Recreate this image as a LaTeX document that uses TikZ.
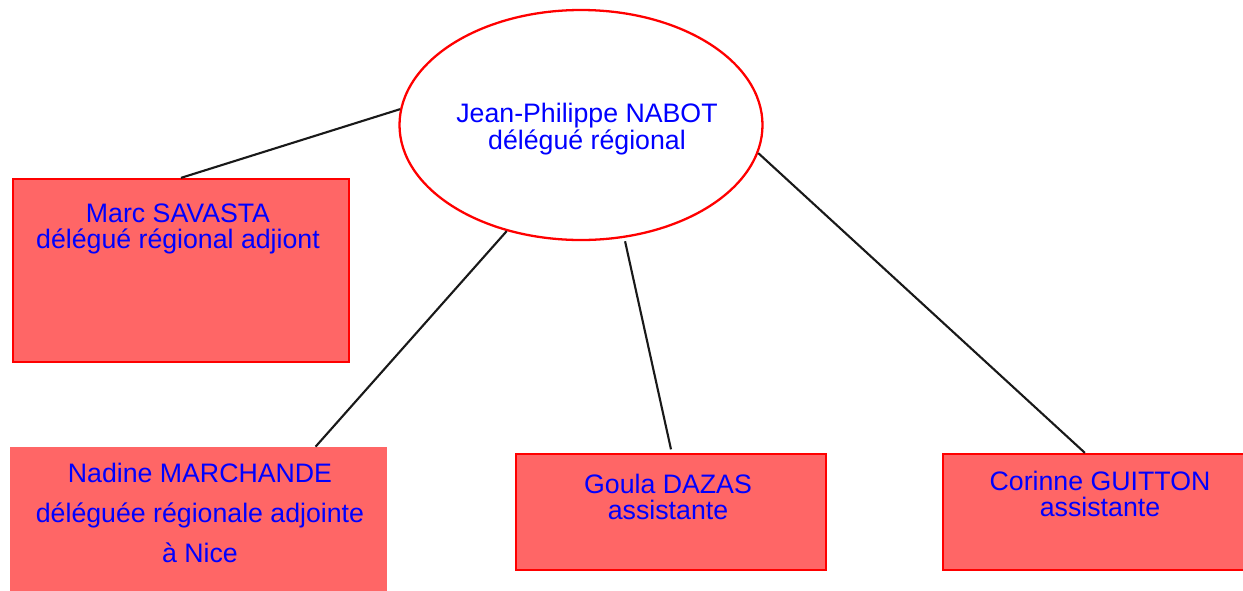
\documentclass[tikz,border=0pt]{standalone}
\usepackage{fontspec}
\setmainfont{Liberation Sans}
\usepackage{tikz}
\usetikzlibrary{shapes.geometric, calc}
\definecolor{boxRed}{HTML}{FF6666}
\tikzstyle{link} = [line width=1.2pt, black!90]
\tikzstyle{chief} = [ellipse, draw=red, line width=1.3pt, fill=white, minimum width=7.26cm, minimum height=4.6cm, inner sep=0pt]
\tikzstyle{rec} = [rectangle, draw=red, line width=1.3pt, fill=boxRed, inner sep=0pt]
\tikzstyle{recPlain} = [rectangle, fill=boxRed, inner sep=0pt]
\tikzstyle{personTxt} = [text=blue, align=center, inner sep=0pt, font=\fontsize{15.2}{15}\selectfont]

\begin{document}
\begin{tikzpicture}
				\useasboundingbox (0,0) rectangle (24.86,-11.8);
				\node (nabot) [chief] at (11.62,-2.5) {};
				\node (savasta) [rec, minimum width=6.72cm, minimum height=3.66cm] at (3.62,-5.41) {};
				\node (nadine) [recPlain, minimum width=7.54cm, minimum height=2.9cm] at (3.97,-10.39) {};
				\node (goula) [rec, minimum width=6.2cm, minimum height=2.32cm] at (13.42,-10.24) {};
				\node (corinne) [rec, minimum width=6.2cm, minimum height=2.32cm] at (21.96,-10.24) {};
				\node (nabotTxt) [personTxt] at (11.74,-2.58) {Jean-Philippe NABOT\\délégué régional};
				\node (savastaTxt) [personTxt] at (3.56,-4.58) {Marc SAVASTA\\délégué régional adjiont};
				\node (nadineTxt) [personTxt, font=\fontsize{15.2}{22.7}\selectfont] at (4.0,-10.26) {Nadine MARCHANDE\\ déléguée régionale adjointe\\à Nice};
				\node (goulaTxt) [personTxt] at (13.36,-9.94) {Goula DAZAS\\assistante};
				\node (corinneTxt) [personTxt] at (22.0,-9.88) {Corinne GUITTON\\assistante};
				\draw [link] (nabot.175) -- (savasta.north);
				\draw [link] (nabot.235) -- ($(nadine.north west)!0.81!(nadine.north east)$);
				\draw [link, shorten <=2pt] (nabot.291) -- ([yshift=2pt]goula.north);
				\draw [link] (nabot.351) -- ($(corinne.north west)!0.458!(corinne.north east)$);
			\end{tikzpicture}
\end{document}
